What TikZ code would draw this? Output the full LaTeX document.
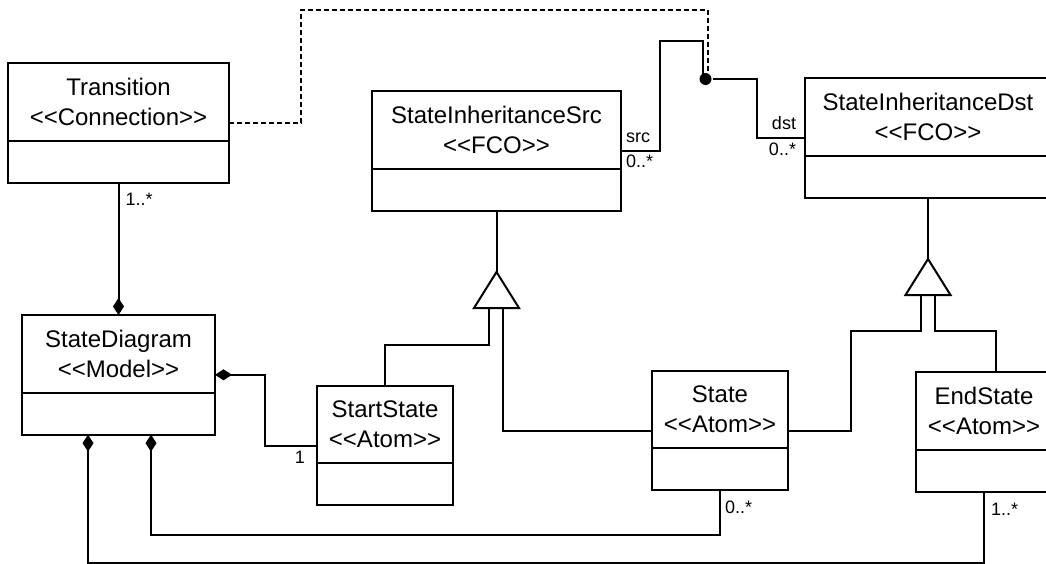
\documentclass[tikz,border=0pt]{standalone}
\usepackage{fontspec}
\setmainfont{Liberation Sans}[Ligatures=TeXOff]
\usetikzlibrary{shapes.multipart,arrows.meta}
\begin{document}
\begin{tikzpicture}[x=1pt,y=-1pt,line width=2pt,
  cls/.style={rectangle split, rectangle split parts=2, draw, text width=#1,
    align=center, inner xsep=4pt, inner ysep=14pt, outer sep=0pt,
    rectangle split empty part height=12pt, anchor=north west,
    font=\fontsize{24}{30}\selectfont},
  mult/.style={inner sep=0pt, font=\fontsize{18}{20}\selectfont},
  comp/.style={-{Diamond[length=17pt,width=11pt]}},
  gentri/.style={fill=white},
  link/.style={dash pattern=on 5pt off 3pt}]
\useasboundingbox (0,0) rectangle (1046,563);
%
% clases
\node[cls=213pt] (trans) at (8,63) {Transition\\<<Connection>>};
\node[cls=241pt] (inhsrc) at (372,91) {StateInheritanceSrc\\<<FCO>>};
\node[cls=238pt] (inhdst) at (805,78) {StateInheritanceDst\\<<FCO>>};
\node[cls=185pt] (diag) at (22,315) {StateDiagram\\<<Model>>};
\node[cls=128pt] (startst) at (317,386) {StartState\\<<Atom>>};
\node[cls=128pt] (st) at (652,371) {State\\<<Atom>>};
\node[cls=128pt] (endst) at (916,372) {EndState\\<<Atom>>};
\node[circle, fill, inner sep=0pt, minimum size=12pt] (conn) at (705.5,79) {};
%
% herencia
\coordinate (gsrc) at (496.5,308);
\coordinate (gdst) at (928,295);
\draw[gentri] (gsrc) ++(-22.5,0) -- ++(22.5,-36) -- ++(22.5,36) -- cycle;
\draw[gentri] (gdst) ++(-22.5,0) -- ++(22.5,-36) -- ++(22.5,36) -- cycle;
\draw (inhsrc.south) -- ([yshift=36pt]gsrc);
\draw (startst.north) -- ++(0,-41) -| ([xshift=-8pt]gsrc);
\draw (st.west) -| ([xshift=6pt]gsrc);
\draw (inhdst.south) -- ([yshift=36pt]gdst);
\draw (st.east) -- ++(63,0) |- ([shift={(-7pt,-36pt)}]gdst) -- ([xshift=-7pt]gdst);
\draw ([xshift=12pt]endst.north) |- ([shift={(7pt,-36pt)}]gdst) -- ([xshift=7pt]gdst);
%
% composicion
\draw[comp] (trans.south) -- (diag.north);
\draw[comp] (startst.west) -- ++(-52,0) |- (diag.east);
\draw[comp] (st.south) -- ++(0,45) -| ([xshift=32.5pt]diag.south);
\draw[comp] (endst.south) -- ++(0,71) -| ([xshift=-30.5pt]diag.south);
%
% conexion
\draw[link] (trans.east) -| (301,10) -| ([xshift=2.5pt]conn.center);
\draw (inhsrc.east) -| (660,41) -| ([xshift=-2.5pt]conn.center);
\draw (conn) -| ([xshift=-48pt]inhdst.west) -- (inhdst.west);
%
% multiplicidades
\node[mult, anchor=north west] (m1) at ([shift={(6pt,-9pt)}]trans.south) {1..*};
\node[mult, anchor=south west] (m2) at ([shift={(4pt,7pt)}]inhsrc.east) {src};
\node[mult, anchor=north west] (m3) at ([shift={(4pt,-3pt)}]inhsrc.east) {0..*};
\node[mult, anchor=south east] (m4) at ([shift={(-8pt,7.5pt)}]inhdst.west) {dst};
\node[mult, anchor=north east] (m5) at ([shift={(-8pt,-4.5pt)}]inhdst.west) {0..*};
\node[mult, anchor=north east] (m6) at ([shift={(-11pt,-5pt)}]startst.west) {1};
\node[mult, anchor=north west] (m7) at ([shift={(4pt,-10pt)}]st.south) {0..*};
\node[mult, anchor=north west] (m8) at ([shift={(6pt,-10pt)}]endst.south) {1..*};
%
\end{tikzpicture}
\end{document}
